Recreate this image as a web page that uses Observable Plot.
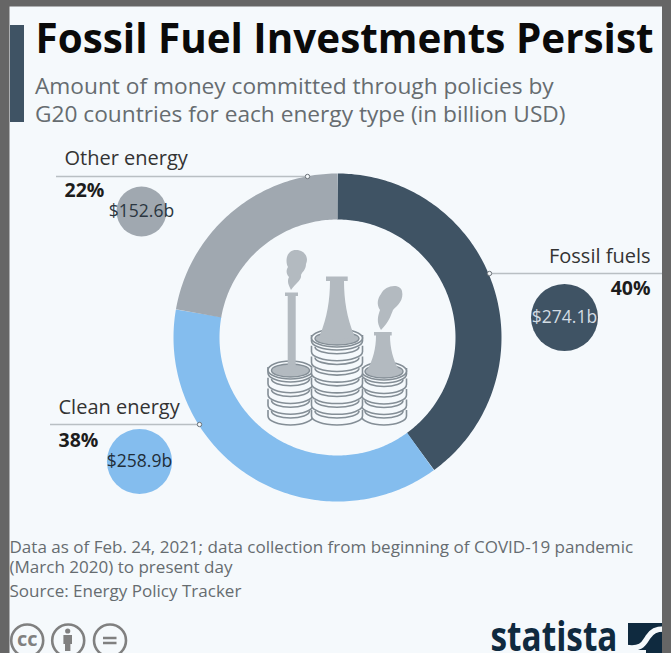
<!DOCTYPE html>
<html>
<head>
<meta charset="utf-8">
<style>
  html, body { margin: 0; padding: 0; background: #666; overflow: hidden; }
  svg { display: block; }
</style>
<script src="https://cdn.jsdelivr.net/npm/d3@7"></script>
<script src="https://cdn.jsdelivr.net/npm/@observablehq/plot@0.6"></script>
</head>
<body>
<div id="chart"></div>
<script>
// Committed money per energy type, in billion USD
const categories = ["Fossil fuels", "Clean energy", "Other energy"];
const amounts = [274.1, 258.9, 152.6];
const shareLabels = ["40%", "38%", "22%"];
const amountLabels = ["$274.1b", "$258.9b", "$152.6b"];
const sliceColors = ["#3f5364", "#84bdee", "#a0a8b0"];

const titleText = "Fossil Fuel Investments Persist";
const subtitleLines = ["Amount of money committed through policies by", "G20 countries for each energy type (in billion USD)"];
const noteLines = [
  "Data as of Feb. 24, 2021; data collection from beginning of COVID-19 pandemic",
  "(March 2020) to present day",
  "Source: Energy Policy Tracker"
];

// Page layout, in SVG units
const W = 671, H = 653;
const ring = {cx: 337, cy: 337, outer: 164, inner: 118};
const callouts = [
  {line: [489, 662], lineY: 273, tipX: 489, textX: 650, anchor: "end", nameY: 248, shareY: 281, bubbleX: 564, bubbleY: 317, text: "#d3dce3"},
  {line: [50, 199], lineY: 424, tipX: 199, textX: 58, anchor: "start", nameY: 399, shareY: 433, bubbleX: 139, bubbleY: 461, text: "#1f2d38"},
  {line: [56, 307], lineY: 176, tipX: 307, textX: 64, anchor: "start", nameY: 150, shareY: 183, bubbleX: 141, bubbleY: 211, text: "#2b3640"}
];

const rows = categories.map((name, i) => ({name, amount: amounts[i], share: shareLabels[i], label: amountLabels[i], ...callouts[i]}));

// Walk each slice clockwise from twelve o'clock in one-degree steps
const total = d3.sum(amounts);
const midRadius = (ring.outer + ring.inner) / 2;
let running = 0;
const arcPoints = rows.flatMap((row) => {
  const from = (running / total) * 360;
  running += row.amount;
  const to = (running / total) * 360;
  const steps = Math.ceil(to - from);
  return d3.range(steps + 1).map((k) => {
    const a = ((from + ((to - from) * k) / steps) * Math.PI) / 180;
    return {name: row.name, x: ring.cx + midRadius * Math.sin(a), y: ring.cy - midRadius * Math.cos(a)};
  });
});

const font = "Open Sans";
const ink = "#1d1d1d";
const muted = "#666c70";
const panel = "#f5f9fc";
const navy = "#0f2a3f";

// Factory chimneys standing on stacks of coins
function factoryIcon(index, {x, y}) {
  const g = d3.create("svg:g").attr("transform", `translate(${x(0)},${y(0)})`);
  const line = "#848e96", fill = "#b3bac0";
  const stack = (cx, rx, topY, n) => {
    const step = (413 - topY) / (n - 1);
    for (let i = n - 1; i >= 0; --i) {
      const cy = topY + i * step;
      g.append("path")
        .attr("d", `M${cx - rx},${cy - 3} V${cy + 3} A${rx},9 0 0 0 ${cx + rx},${cy + 3} V${cy - 3}`)
        .attr("fill", panel).attr("stroke", line).attr("stroke-width", 1.6);
      g.append("path")
        .attr("d", `M${cx - rx + 3.5},${cy - 2} A${rx - 3.5},7 0 0 0 ${cx + rx - 3.5},${cy - 2}`)
        .attr("fill", "none").attr("stroke", line).attr("stroke-width", 1.6);
    }
    g.append("ellipse").attr("cx", cx).attr("cy", topY).attr("rx", rx).attr("ry", 9)
      .attr("fill", panel).attr("stroke", line).attr("stroke-width", 1.6);
    g.append("ellipse").attr("cx", cx).attr("cy", topY + 0.5).attr("rx", rx - 3.5).attr("ry", 6.5)
      .attr("fill", fill).attr("stroke", line).attr("stroke-width", 1.4);
  };
  stack(290.5, 22.5, 370, 5);
  stack(384, 22.5, 371, 5);
  stack(337, 25.5, 338, 8);
  const shape = (d) => g.append("path").attr("d", d).attr("fill", fill);
  // Left chimney and its smoke
  shape("M285,292.5 H298 V296 H295.7 V368 H287.7 V296 H285 Z");
  shape("M291,290 C288,284 287,281 289,277 C286,274 286,270 288,267 C285,262 286,250 296,250 C305,250 309,258 306,264 C306,270 302,272 301,275 C302,280 295,284 291,290 Z");
  // Middle chimney
  shape("M326,276.5 H347.7 V281 H344 C344,300 347,318 354,335 C346,341 328,341 320,335 C327,318 330,300 330,281 H326 Z");
  // Right chimney and its smoke
  shape("M381,330 C376,322 378,316 380,310 C376,304 378,298 381,294 C385,285 400,283 402,291 C404,300 398,305 393,310 C391,315 389,322 381,330 Z");
  shape("M374,332 H391.7 V335.5 H390 C390,348 393,360 399,370 C392,376 376,376 367,370 C373,360 376,348 376,335.5 H374 Z");
  return g.node();
}

// Person and equals glyphs of the licence badges, and the publisher's square
function badges(index, {x, y}) {
  const g = d3.create("svg:g").attr("transform", `translate(${x(0)},${y(0)})`);
  const c = "#808080";
  g.append("circle").attr("cx", 67.7).attr("cy", 631).attr("r", 2.6).attr("fill", c);
  g.append("path").attr("d", "M63.4,635 H72 V644 H70.4 V651 H65 V644 H63.4 Z").attr("fill", c);
  g.append("path").attr("d", "M103,638 H116.5 M103,643 H116.5").attr("stroke", c).attr("stroke-width", 2.4);
  g.append("path").attr("d", "M628,623 H663 V653 H628 Z").attr("fill", navy);
  g.append("path").attr("d", "M626,647.5 C642,650 644,643 648,637 C652,631 656,629 664,629").attr("fill", "none").attr("stroke", panel).attr("stroke-width", 5.5);
  g.append("path").attr("d", "M626,650 H646 V655 H626 Z").attr("fill", panel);
  return g.node();
}

// Squeeze a mark's single line of text to a known width
const fitted = (length) => (index, scales, values, dimensions, context, next) => {
  const node = next(index, scales, values, dimensions, context);
  d3.select(node).selectAll("text").attr("textLength", length).attr("lengthAdjust", "spacingAndGlyphs");
  return node;
};

const textMark = (data, options) => Plot.text(data, {fontFamily: font, lineAnchor: "top", ...options});

const chart = Plot.plot({
  width: W,
  height: H,
  margin: 0,
  style: {background: panel, overflow: "hidden"},
  x: {domain: [0, W], range: [0, W], axis: null},
  y: {domain: [0, H], range: [0, H], axis: null},
  color: {domain: categories, range: sliceColors},
  r: {type: "sqrt", domain: [0, d3.max(amounts)], range: [0, 33.5]},
  marks: [
    // Title block
    Plot.rect([0], {x1: 10, x2: 24, y1: 25, y2: 122, fill: "#3f5364"}),
    textMark([titleText], {x: 35, y: 24, text: (d) => d, textAnchor: "start", fontSize: 40.4, fontWeight: 700, fill: "#0a0a0a"}),
    textMark(subtitleLines, {x: 34.5, y: (d, i) => 77 + i * 28, text: (d) => d, textAnchor: "start", fontSize: 22.7, fill: muted}),

    // Donut
    Plot.line(arcPoints, {x: "x", y: "y", z: "name", stroke: "name", strokeWidth: ring.outer - ring.inner, strokeLinecap: "butt", strokeLinejoin: "round", curve: "linear"}),
    factoryIcon,

    // Callouts
    Plot.ruleY(rows, {y: "lineY", x1: (d) => d.line[0], x2: (d) => d.line[1], stroke: "#b9bfc3", strokeWidth: 1.6}),
    Plot.dot(rows, {x: "tipX", y: "lineY", r: 2.2, fill: panel, stroke: "#6b7278", strokeWidth: 1}),
    Plot.dot(rows, {x: "bubbleX", y: "bubbleY", r: "amount", fill: "name"}),
    rows.map((d) => textMark([d], {x: "textX", y: "nameY", text: "name", textAnchor: d.anchor, fontSize: 20, fill: "#333"})),
    rows.map((d) => textMark([d], {x: "textX", y: "shareY", text: "share", textAnchor: d.anchor, fontSize: 19.5, fontWeight: 700, fill: ink})),
    rows.map((d) => Plot.text([d], {x: "bubbleX", y: "bubbleY", text: "label", textAnchor: "middle", fontFamily: font, fontSize: 17.5, fill: d.text})),

    // Notes
    textMark(noteLines, {x: 9, y: (d, i) => [540, 560, 584][i], text: (d) => d, textAnchor: "start", fontSize: 17.05, fill: muted}),

    // Licence badges and publisher mark
    Plot.dot([26.7, 67.7, 109.5], {x: (d) => d, y: 640, r: 16, fill: "none", stroke: "#808080", strokeWidth: 2.6}),
    Plot.text(["cc"], {x: 26.7, y: 639, text: (d) => d, textAnchor: "middle", fontFamily: font, fontSize: 20, fontWeight: 700, fill: "#808080"}),
    badges,
    textMark(["statista"], {x: 490, y: 621, text: (d) => d, textAnchor: "start", fontSize: 41, fontWeight: 700, fill: navy, render: fitted(127)}),

    // Surrounding frame, over anything running past the panel
    Plot.rect([[0, 9.5, 0, H], [662, W, 0, H], [0, W, 0, 6.5]], {x1: (d) => d[0], x2: (d) => d[1], y1: (d) => d[2], y2: (d) => d[3], fill: "#666"})
  ]
});
document.getElementById("chart").append(chart);
</script>
</body>
</html>
